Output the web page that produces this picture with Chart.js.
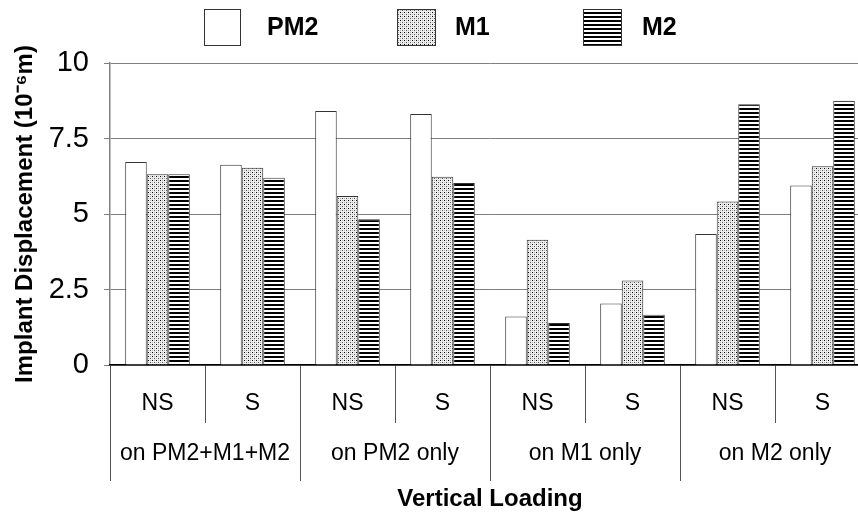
<!DOCTYPE html>
<html><head><meta charset="utf-8">
<script src="https://cdn.jsdelivr.net/npm/chart.js@4.4.1/dist/chart.umd.min.js"></script>
<style>
html,body{margin:0;padding:0;background:#fff;overflow:hidden;width:858px;height:519px}
#wrap{width:880px;height:519px}
</style></head>
<body><div id="wrap"><canvas id="c" width="880" height="519"></canvas></div>
<script>
const subLabels = ['NS','S','NS','S','NS','S','NS','S'];
const groupLabels = ['on PM2+M1+M2','on PM2 only','on M1 only','on M2 only'];
const seriesNames = ['PM2','M1','M2'];
const pm2 = [6.72, 6.63, 8.41, 8.31, 1.61, 2.04, 4.34, 5.94];
const m1  = [6.32, 6.53, 5.60, 6.23, 4.15, 2.80, 5.41, 6.58];
const m2  = [6.32, 6.20, 4.83, 6.03, 1.39, 1.66, 8.63, 8.75];
const yTicks = [0, 2.5, 5, 7.5, 10];

const FAM = "'Liberation Sans', Arial, sans-serif";

function makeDots(){
  const c=document.createElement('canvas'); c.width=4; c.height=4;
  const x=c.getContext('2d');
  x.fillStyle='#eeeeee'; x.fillRect(0,0,4,4);
  x.fillStyle='#b8b8b8'; x.fillRect(2,0,1,1); x.fillRect(0,2,1,1);
  x.fillStyle='#000000'; x.fillRect(0,0,1,1); x.fillStyle='#555'; x.fillRect(2,2,1,1);
  return x.createPattern(c,'repeat');
}
function makeStripes(){
  const c=document.createElement('canvas'); c.width=4; c.height=4;
  const x=c.getContext('2d');
  x.fillStyle='#ffffff'; x.fillRect(0,0,4,4);
  x.fillStyle='#000000'; x.fillRect(0,0,4,2);
  return x.createPattern(c,'repeat');
}
const ctx0 = document.getElementById('c').getContext('2d');
const fills = ['#ffffff', makeDots(), makeStripes()];

const legendPlugin = {
  id:'customLegend',
  afterDraw(chart){
    const ctx = chart.ctx;
    const items = [{bx:204,bw:37,tx:267},{bx:397,bw:39,tx:455},{bx:583,bw:39,tx:642}];
    ctx.save();
    items.forEach((it,i)=>{
      ctx.fillStyle = fills[i];
      ctx.fillRect(it.bx, 9, it.bw, 37);
      ctx.strokeStyle = '#333'; ctx.lineWidth = 1;
      ctx.strokeRect(it.bx+0.5, 9.5, it.bw-1, 36);
      ctx.fillStyle = '#000';
      ctx.font = "bold 25px " + FAM;
      ctx.textBaseline = 'middle'; ctx.textAlign = 'left';
      ctx.fillText(seriesNames[i], it.tx, 28);
    });
    ctx.restore();
  }
};

const data = {
  labels: subLabels,
  datasets: [pm2, m1, m2].map((d,i)=>({
    label: seriesNames[i],
    data: d,
    backgroundColor: fills[i],
    borderColor: '#333',
    borderWidth: 1,
    categoryPercentage: 0.68,
    barPercentage: 1.0
  }))
};

new Chart(ctx0, {
  type:'bar',
  data,
  plugins:[legendPlugin],
  options:{
    responsive:false, animation:false, devicePixelRatio:1,
    layout:{padding:{top:63,left:0,right:10,bottom:0}},
    plugins:{legend:{display:false}, tooltip:{enabled:false}},
    scales:{
      y:{
        min:0, max:10,
        afterBuildTicks(s){ s.ticks = yTicks.map(v=>({value:v})); },
        ticks:{font:{family:FAM,size:29}, color:'#000', padding:15},
        grid:{color:'#808080', lineWidth:1, tickLength:6},
        border:{color:'#808080', width:1.5},
        title:{display:true, text:'Implant Displacement (10\u207B\u2076m)', color:'#000',
               font:{family:FAM,size:24,weight:'bold'}, padding:{top:11,bottom:0}},
        afterFit(s){ s.width = 110; }
      },
      x:{
        type:'category', offset:true,
        grid:{offset:true, drawOnChartArea:false, tickLength:58, color:'#555', lineWidth:1},
        border:{color:'#000', width:1.5},
        ticks:{font:{family:FAM,size:23}, color:'#000', padding:-33, maxRotation:0, autoSkip:false},
        afterFit(s){ s.height = 58; }
      },
      x2:{
        type:'category', labels:groupLabels, offset:true, position:'bottom',
        grid:{offset:true, drawOnChartArea:false, tickLength:58, color:'#555', lineWidth:1},
        border:{display:false},
        ticks:{font:{family:FAM,size:23}, color:'#000', padding:-41, maxRotation:0, autoSkip:false},
        title:{display:true, text:'Vertical Loading', color:'#000',
               font:{family:FAM,size:24,weight:'bold'}, padding:{top:0,bottom:5}},
        afterFit(s){ s.height = 96; }
      }
    }
  }
});
</script>
</body></html>
